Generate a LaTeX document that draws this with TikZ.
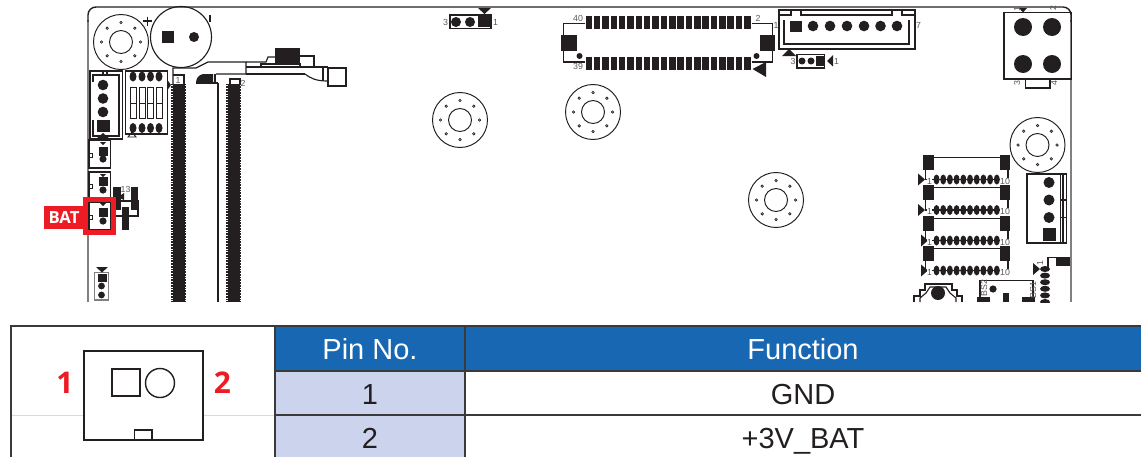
\documentclass[tikz,border=0pt]{standalone}
\usepackage{fontspec}
\setmainfont{Liberation Sans}
\newfontfamily\labelfont{Open Sans}
\usetikzlibrary{positioning}
\definecolor{inkblack}{HTML}{231F20}
\definecolor{batred}{HTML}{ED1C24}
\definecolor{headblue}{HTML}{1767B3}
\definecolor{pinblue}{HTML}{CBD4EC}
\definecolor{gridgrey}{HTML}{3A3A3A}
\tikzset{
	part/.style={draw=inkblack,line width=0.65pt},
	tiny/.style={inner sep=0pt,text=black!65,font=\fontsize{5}{5.5}\selectfont},
	cell/.style={inner sep=0pt,anchor=base,text=inkblack,font=\fontsize{16.5}{18}\selectfont},
	redpin/.style={inner sep=0pt,text=batred,font=\labelfont\bfseries\fontsize{17}{18}\selectfont},
	grid/.style={draw=gridgrey,line width=0.9pt},
}
\begin{document}
\begin{tikzpicture}[x=0.02cm,y=-0.02cm]
	\useasboundingbox (0,0) rectangle (1141,457);
	\begin{scope}
	\clip (0,0) rectangle (1141,302);
	\draw[draw=gray,line width=1.2pt] (88,302) -- (88,20);
	\draw[draw=gray,line width=1.2pt] (1071,20) -- (1071,302);
	\draw[part,line width=0.8pt,rounded corners=4.5pt] (88,22) -- (88,7) -- (1071,7) -- (1071,22);
	\foreach \hx/\hy in {121/42,460/120,593/112,776/200,1037.5/145}{
		\draw[part,line width=0.55pt,fill=white] (\hx,\hy) circle (27.5);
		\draw[part,line width=0.55pt] (\hx,\hy) circle (11.5);
		\foreach \a in {0,45,...,315}
		\draw[part,line width=0.35pt,fill=gray!60] (\hx,\hy) ++(\a:19.5) circle (1.3);
	}
	\draw[part] (181,37) circle (30.5);
	\fill[inkblack] (162,31) rectangle (173.5,43);
	\fill[inkblack] (194,37) circle (5);
	\draw[part] (143,21) -- (152,21) (147.5,16.5) -- (147.5,25.5) (210,15) -- (210,22);
	\draw[part] (90,71) rectangle (122.5,139);
	\draw[part] (93,82) -- (93,75) -- (119,75) -- (119,136) -- (93,136) -- (93,120);
	\draw[part] (103,71) -- (103,75) (107,71) -- (107,75);
	\foreach \py in {85,98.5,112}
	\fill[inkblack] (103,\py) circle (5.3);
	\fill[inkblack] (97,119.5) rectangle (109.5,131.5);
	\fill[inkblack] (96,139) -- (103,133) -- (110,139) -- cycle;
	\draw[part] (125.5,71) rectangle (167.5,134);
	\foreach \px in {133,142,150.5,159}{
		\fill[inkblack] (\px,76.5) ellipse [x radius=3.5,y radius=5];
		\fill[inkblack] (\px,128) ellipse [x radius=3.5,y radius=5];
		\draw[part,line width=0.5pt] (\px-3,87) rectangle (\px+3,118);
		\draw[part,line width=0.5pt] (\px-3,103) -- (\px+3,103);
	}
	\fill[inkblack] (167.5,80) -- (171,85) -- (167.5,90) -- cycle;
	\draw[part,line width=0.5pt] (128,137) -- (132,132) -- (136,137) -- cycle;
	\draw[part] (173,84) -- (173,68) -- (196,68) -- (208,62) -- (246,62) -- (246,74) -- (216,74);
	\draw[part] (173,75) -- (184,75) -- (184,84);
	\draw[part] (246,62) -- (266,62) -- (268,57) -- (275,57);
	\fill[inkblack] (275,48) rectangle (300,63);
	\draw[part] (300,56) -- (314,56) -- (314,67);
	\draw[part] (261,67) -- (261,64) -- (300,64) -- (300,67);
	\draw[part] (246,67) -- (328,67) (246,74) -- (305,74);
	\draw[part] (305,74) .. controls (310,78) and (316,81) .. (327,81);
	\draw[part] (323,67) -- (323,81);
	\draw[part] (328,68) rectangle (346,86);
	\fill[inkblack] (213,74) -- (203,74) .. controls (198,75) and (196,79) .. (196,83) -- (213,83) -- cycle;
	\draw[part] (196,83) -- (218,83);
	\draw[part] (215,74) -- (215,83);
	\draw[part] (218,83) -- (218,302);
	\draw[part] (230,85) -- (230,79) -- (240,79) -- (240,85);
	\foreach \sx in {172,227}{
		\fill[inkblack] (\sx+0.5,84) rectangle (\sx+12.5,302);
		\draw[inkblack,dash pattern=on 0.5pt off 0.4pt,line width=0.7pt] (\sx,84) -- (\sx,302) (\sx+13,84) -- (\sx+13,302);
	}
	\node[tiny] (dimma) at (178,80) {1};
	\node[tiny] (dimmb) at (243,83) {2};
	\foreach \by in {140,172,202}
	\draw[part] (89,\by) rectangle (110.5,\by+28);
	\foreach \sy/\cy/\ty/\ky in {147/159/142/155,177/190/174/186,208/221/203/217}{
		\fill[inkblack] (99,\sy) rectangle (108,\sy+9);
		\fill[inkblack] (103,\cy) circle (3.6);
		\fill[inkblack] (100,\ty) -- (106,\ty) -- (103,\ty+3) -- cycle;
		\draw[part,fill=white,line width=0.5pt] (89,\ky-2) rectangle (92,\ky+2);
	}
	\fill[inkblack] (113,187) rectangle (121,210);
	\fill[inkblack] (131,187) rectangle (138,210);
	\fill[inkblack] (122,207) rectangle (129,230);
	\draw[part] (121,201) -- (138,201) -- (138,216) -- (129,216) (116,216) -- (122,216);
	\fill[inkblack] (118,197) -- (124,193) -- (124,200) -- cycle;
	\node[tiny] (jpa) at (123,189) {1};
	\node[tiny] (jpb) at (128,189) {3};
	\draw[draw=batred,line width=2.9pt] (85.5,199.5) rectangle (113.5,232.5);
	\fill[batred] (44,206) rectangle (84,229);
	\node[inner sep=0pt,text=white,font=\labelfont\bfseries\fontsize{9.5}{10}\selectfont] (bat) at (64,217.5) {BAT};
	\draw[part,draw=gray,line width=1pt] (94.5,272.5) rectangle (108.5,300);
	\fill[inkblack] (96,267) -- (108,267) -- (102,272.5) -- cycle;
	\fill[inkblack] (97.5,274) rectangle (106.5,282);
	\fill[inkblack] (101.5,286) circle (3.4);
	\fill[inkblack] (101.5,295) circle (3.4);
	\draw[part] (450,15) rectangle (491,28.5);
	\fill[inkblack] (456,22) circle (5) (470,22) circle (5);
	\fill[inkblack] (478,16) rectangle (489.5,27);
	\fill[inkblack] (478,8) -- (491,8) -- (484.5,14) -- cycle;
	\node[tiny] (heada) at (445.5,22) {3};
	\node[tiny] (headb) at (495.5,22) {1};
	\draw[part] (585,23.5) -- (563.5,23.5) -- (563.5,62) -- (585,62);
	\draw[part] (752,23.5) -- (772.5,23.5) -- (772.5,62) -- (752,62);
	\foreach \p in {0,...,19}{
		\fill[inkblack] (585.5+\p*8.35,16) rectangle ++(6.5,13);
		\fill[inkblack] (585.5+\p*8.35,56.5) rectangle ++(6.5,13.5);
	}
	\fill[inkblack] (560.5,35) rectangle (577,51);
	\fill[inkblack] (759.5,35) rectangle (775,51);
	\fill[inkblack] (579.5,56) circle (3) (756.5,56) circle (3);
	\fill[inkblack] (752.5,69) -- (766,62) -- (766,77) -- cycle;
	\node[tiny] (fpca) at (578,18) {40};
	\node[tiny] (fpcb) at (758,18.5) {2};
	\node[tiny] (fpcc) at (578,66) {39};
	\draw[part] (779,15) -- (779,10) -- (915,10) -- (915,49) -- (779,49) -- (779,15) -- (791,15) -- (791,10);
	\draw[part] (801,10) -- (801,15) -- (892,15) -- (892,10) (902,10) -- (902,15) -- (915,15);
	\draw[part] (784,20) -- (784,44) -- (909,44) -- (909,20);
	\fill[inkblack] (790,20.5) rectangle (802,32);
	\foreach \cx in {813,830,847,864,880.5,897}
	\fill[inkblack] (\cx,26) circle (5.3);
	\node[tiny] (wafa) at (776,25) {1};
	\node[tiny] (wafb) at (918.5,25) {7};
	\fill[inkblack] (782,56) -- (796,56) -- (789,49) -- cycle;
	\draw[part] (797,54.5) rectangle (824.5,68);
	\fill[inkblack] (802,61) circle (3.5) (811,61) circle (3.5);
	\fill[inkblack] (815.5,56) rectangle (824.5,66);
	\fill[inkblack] (827,61) -- (833,55) -- (833,66.5) -- cycle;
	\node[tiny] (fana) at (793,61) {3};
	\node[tiny] (fanb) at (836.5,61) {1};
	\draw[part] (1004,12.5) rectangle (1071.5,79);
	\draw[part] (1025.5,79) -- (1025.5,88) -- (1050,88) -- (1050,79);
	\foreach \cx/\cy in {1023/27,1052/27,1023/64,1052/64}
	\fill[inkblack] (\cx,\cy) circle (9);
	\fill[inkblack] (1019,8) -- (1027,8) -- (1023,12.5) -- cycle;
	\node[tiny,rotate=90] (pwra) at (1017,9) {1};
	\node[tiny,rotate=90] (pwrb) at (1053,8) {2};
	\node[tiny,rotate=90] (pwrc) at (1017,83) {3};
	\node[tiny,rotate=90] (pwrd) at (1054,83) {4};
	\foreach \ry/\oy/\tx in {155/179.5/918,185/210/918,216/240.5/921,246/270.5/921}{
		\draw[part] (928,\ry+2.5) -- (1005,\ry+2.5);
		\draw[part] (925.5,\ry+10) -- (925.5,\oy) -- (1008,\oy) -- (1008,\ry+10);
		\fill[inkblack] (923,\ry) rectangle (933.5,\ry+14.5);
		\fill[inkblack] (1000,\ry) rectangle (1010,\ry+14.5);
		\foreach \p in {0,...,9}
		\fill[inkblack] (936.5+\p*6.7,\oy) ellipse [x radius=3,y radius=5];
		\fill[inkblack] (\tx,\oy-6) -- (\tx+7,\oy) -- (\tx,\oy+6) -- cycle;
		\node[tiny,fill=white,inner sep=0.2pt] (fpl\ry) at (929.5,\oy+1.5) {1};
		\node[tiny,fill=white,inner sep=0.2pt] (fpr\ry) at (1005,\oy+1.5) {10};
	}
	\draw[part] (1027,174) rectangle (1066.5,243);
	\draw[part] (1060.5,174) -- (1060.5,243) (1063,174) -- (1063,243);
	\draw[part] (1060.5,200) -- (1066.5,200) (1060.5,217.5) -- (1066.5,217.5);
	\foreach \cy in {182.5,200,217.5}
	\fill[inkblack] (1049,\cy) circle (5.5);
	\fill[inkblack] (1043,228) rectangle (1055.5,241);
	\draw[part] (1048,269) -- (1048,257.5) -- (1056,257.5);
	\fill[inkblack] (1055.5,256.5) rectangle (1070,266);
	\foreach \p in {0,...,5}
	\fill[inkblack] (1045,269+\p*6.6) ellipse [x radius=5,y radius=3];
	\fill[inkblack] (1033,263) -- (1040,269) -- (1033,275) -- cycle;
	\node[tiny,rotate=90] (hdra) at (1040,263) {1};
	\draw[part] (980,302) -- (980,280.5) -- (1033,280.5) -- (1033,302);
	\fill[inkblack] (993,289) circle (3.6);
	\fill[inkblack] (977,297) rectangle (990,302);
	\fill[inkblack] (1022,297) rectangle (1035,302);
	\fill[inkblack] (1003,293) rectangle (1008.5,302);
	\node[tiny,rotate=90] (bsa) at (984,288) {BS2};
	\node[tiny,rotate=90] (bsb) at (1033,290) {BS1};
	\draw[part] (914,302) -- (914,296) -- (920,296) -- (920,290) -- (925,290) -- (925,284) -- (952,284) -- (952,290) -- (957,290) -- (957,296) -- (962,296) -- (962,302);
	\draw[part] (920,302) -- (920,298) -- (926,293) -- (930,287) -- (946,287) -- (950,293) -- (956,298) -- (956,302);
	\fill[inkblack] (938,293) circle (7);
	\end{scope}
	\fill[headblue] (275,326) rectangle (1141,371);
	\fill[pinblue] (275,371) rectangle (465,457);
	\draw[draw=gray!30,line width=0.35pt] (11,415) -- (275,415);
	\draw[grid] (1141,326) -- (11,326) -- (11,457);
	\draw[grid] (275,326) -- (275,457) (465,326) -- (465,457);
	\draw[grid] (275,371) -- (1141,371) (275,415) -- (1141,415);
	\draw[part,fill=white,line width=0.8pt] (84,351) rectangle (203,440);
	\draw[part,line width=0.8pt] (112,369) rectangle (140,396);
	\draw[part,line width=0.8pt] (160,383) circle (14.5);
	\draw[part,line width=0.8pt] (134.5,430) rectangle (152,440);
	\node[redpin] (pinone) at (65,383) {1};
	\node[redpin] (pintwo) at (222.5,383) {2};
	\node[cell,text=white] (headpin) at (370,359.5) {Pin No.};
	\node[cell,text=white] (headfunc) at (803,359.5) {Function};
	\node[cell] (rowone) at (370,404) {1};
	\node[cell] (rowtwo) at (370,448.5) {2};
	\node[cell] (funcone) at (803,404) {GND};
	\node[cell] (functwo) at (803,448.5) {+3V\_BAT};
\end{tikzpicture}
\end{document}
